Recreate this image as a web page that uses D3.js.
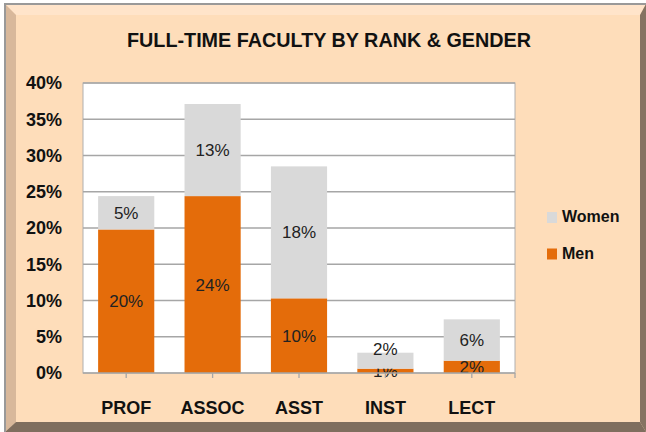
<!DOCTYPE html>
<meta charset="utf-8">
<title>Full-time faculty by rank & gender</title>
<style>
html, body { margin: 0; padding: 0; background: #fff; }
svg { display: block; }
text { font-family: "Liberation Sans", Arial, sans-serif; fill: #111; }
.tick-y, .cat, .legend text { font-weight: bold; }
.lbl { fill: #222; }
</style>
<body>
<svg width="646" height="432"></svg>
<script src="https://cdn.jsdelivr.net/npm/d3@7"></script>
<script>

// data (percent of full-time faculty)
var categories = ["PROF", "ASSOC", "ASST", "INST", "LECT"];
var men   = [19.8, 24.4, 10.3, 0.6, 1.7];
var women = [4.6, 12.7, 18.2, 2.2, 5.7];
var yTicks = [0, 5, 10, 15, 20, 25, 30, 35, 40];
var seriesNames = ["Women", "Men"];

var colors = { Men: "#E46C0A", Women: "#D9D9D9" };

var svg = d3.select("svg");

// beveled frame
var frame = svg.append("g");
frame.append("rect").attr("x", 5).attr("y", 4).attr("width", 641).attr("height", 428).attr("fill", "#FEDDBA");
frame.append("polygon").attr("points", "5,4 646,4 640,15 16,15").attr("fill", "#FFE4CA");
frame.append("polygon").attr("points", "5,4 16,15 16,422 5,432").attr("fill", "#D8B89B");
frame.append("polygon").attr("points", "646,4 646,432 640,422 640,15").attr("fill", "#857362");
frame.append("polygon").attr("points", "5,432 646,432 640,422 16,422").attr("fill", "#7F6E5E");
frame.append("path").attr("d", "M5,432V4H646").attr("fill", "none").attr("stroke", "#999").attr("stroke-width", 2);

svg.append("text")
    .attr("x", 329).attr("y", 47)
    .attr("text-anchor", "middle")
    .attr("textLength", 404)
    .attr("lengthAdjust", "spacingAndGlyphs")
    .style("font-weight", "bold")
    .style("font-size", "20px")
    .text("FULL-TIME FACULTY BY RANK & GENDER");

var plot = { left: 83, right: 515, top: 83, bottom: 373 };

var x = d3.scaleBand()
    .domain(categories)
    .range([plot.left, plot.right])
    .paddingInner(0.35)
    .paddingOuter(0.175);

var y = d3.scaleLinear()
    .domain([0, 40])
    .range([plot.bottom, plot.top]);

svg.append("rect")
    .attr("x", plot.left).attr("y", plot.top)
    .attr("width", plot.right - plot.left).attr("height", plot.bottom - plot.top)
    .attr("fill", "#fff").attr("stroke", "#B0B0B0");

svg.append("g").selectAll("line")
    .data(yTicks.filter(function(d) { return d > 0; }))
    .enter().append("line")
    .attr("x1", plot.left).attr("x2", plot.right)
    .attr("y1", function(d) { return y(d); })
    .attr("y2", function(d) { return y(d); })
    .attr("stroke", "#A6A6A6").attr("stroke-width", 1.3);

svg.append("g").selectAll("text")
    .data(yTicks)
    .enter().append("text")
    .attr("class", "tick-y")
    .attr("x", 62)
    .attr("y", function(d) { return y(d); })
    .attr("dy", "0.36em")
    .attr("text-anchor", "end")
    .style("font-size", "18px")
    .text(function(d) { return d + "%"; });

// stacked bars
var rows = categories.map(function(c, i) { return { cat: c, Men: men[i], Women: women[i] }; });
var stack = d3.stack().keys(["Men", "Women"])(rows);

var layers = svg.append("g").selectAll("g")
    .data(stack)
    .enter().append("g")
    .attr("fill", function(d) { return colors[d.key]; });

layers.selectAll("rect")
    .data(function(d) { return d; })
    .enter().append("rect")
    .attr("x", function(d) { return x(d.data.cat); })
    .attr("width", x.bandwidth())
    .attr("y", function(d) { return y(d[1]); })
    .attr("height", function(d) { return y(d[0]) - y(d[1]); });

// bottom axis line + ticks
svg.append("line")
    .attr("x1", plot.left).attr("x2", plot.right)
    .attr("y1", plot.bottom).attr("y2", plot.bottom)
    .attr("stroke", "#A6A6A6").attr("stroke-width", 1.3);

svg.append("g").selectAll("line")
    .data(categories.map(function(c) { return x(c) + x.bandwidth() / 2; }).concat([plot.right]))
    .enter().append("line")
    .attr("x1", function(d) { return d; }).attr("x2", function(d) { return d; })
    .attr("y1", plot.bottom).attr("y2", plot.bottom + 5)
    .attr("stroke", "#A6A6A6").attr("stroke-width", 1.3);

svg.append("g").selectAll("text")
    .data(categories)
    .enter().append("text")
    .attr("class", "cat")
    .attr("x", function(d) { return x(d) + x.bandwidth() / 2; })
    .attr("y", 414)
    .attr("text-anchor", "middle")
    .style("font-size", "18px")
    .text(function(d) { return d; });

// data labels
var menLabelY = stack[0].map(function(d) { return (y(d[0]) + y(d[1])) / 2; });

layers.each(function(layer) {
  d3.select(this).selectAll("text")
    .data(layer)
    .enter().append("text")
    .attr("class", "lbl")
    .attr("x", function(d) { return x(d.data.cat) + x.bandwidth() / 2; })
    .attr("y", function(d, i) {
      var c = (y(d[0]) + y(d[1])) / 2;
      if (layer.key === "Women") c = Math.min(c, menLabelY[i] - 22);
      return c;
    })
    .attr("dy", "0.36em")
    .attr("text-anchor", "middle")
    .style("font-size", "17px")
    .text(function(d) { return Math.round(d[1] - d[0]) + "%"; });
});

// legend
var legend = svg.append("g").attr("class", "legend").selectAll("g")
    .data(seriesNames)
    .enter().append("g")
    .attr("transform", function(d, i) { return "translate(547," + (212 + i * 36.5) + ")"; });

legend.append("rect")
    .attr("width", 10).attr("height", 11)
    .attr("fill", function(d) { return colors[d]; });

legend.append("text")
    .attr("x", 15).attr("y", 10)
    .style("font-size", "16px")
    .text(function(d) { return d; });

</script>
</body>
